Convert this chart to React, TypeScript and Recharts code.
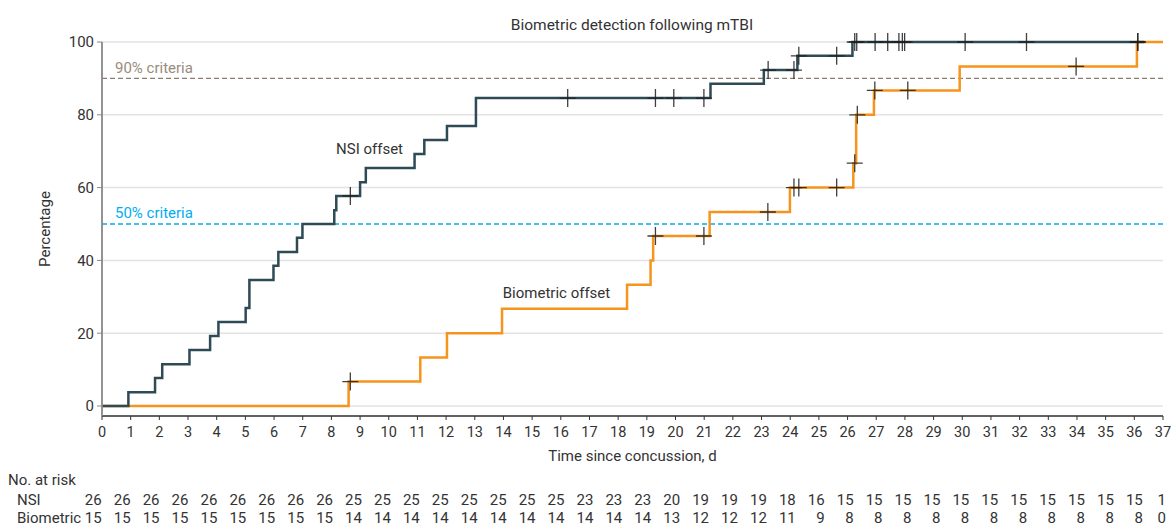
import {
  ComposedChart,
  Line,
  Scatter,
  XAxis,
  YAxis,
  CartesianGrid,
  ReferenceLine,
  ReferenceDot,
  Label,
} from 'recharts';

const FONT = 'Roboto, sans-serif';
const TEXT = '#333';
const NSI_COLOR = '#2d4a55';
const BIO_COLOR = '#f7941d';

const dayTicks = [
  0, 1, 2, 3, 4, 5, 6, 7, 8, 9, 10, 11, 12, 13, 14, 15, 16, 17, 18, 19, 20, 21, 22, 23, 24, 25, 26, 27, 28,
  29, 30, 31, 32, 33, 34, 35, 36, 37,
];
const pctTicks = [0, 20, 40, 60, 80, 100];

// NSI offset curve (day of step, cumulative % after step)
const nsiStepDays = [
  0, 0.92, 1.85, 2.1, 3.05, 3.77, 4.06, 5.01, 5.14, 5.98, 6.15, 6.8, 6.99, 8.1, 8.17, 9.0, 9.2, 10.9, 11.24,
  12.03, 13.04, 21.22, 23.08, 24.25, 26.17, 36.35,
];
const nsiStepPct = [
  0, 3.8, 7.7, 11.5, 15.4, 19.2, 23.1, 26.9, 34.6, 38.5, 42.3, 46.2, 50, 53.8, 57.7, 61.5, 65.4, 69.2, 73.1,
  76.9, 84.6, 88.5, 92.3, 96.2, 100, 100,
];
const nsiCensorDays = [
  8.66, 16.24, 19.3, 19.94, 20.99, 23.23, 24.13, 24.3, 25.62, 26.25, 26.32, 26.96, 27.4, 27.79, 27.91, 27.99,
  30.1, 32.24, 36.12,
];
const nsiCensorPct = [
  57.7, 84.6, 84.6, 84.6, 84.6, 92.3, 92.3, 96.2, 96.2, 100, 100, 100, 100, 100, 100, 100, 100, 100, 100,
];

// Biometric offset curve
const bioStepDays = [0, 8.6, 11.1, 12.03, 13.95, 18.31, 19.13, 19.22, 21.19, 23.99, 26.2, 26.3, 26.92, 29.91, 36.09, 37];
const bioStepPct = [0, 6.7, 13.3, 20, 26.7, 33.3, 40, 46.7, 53.3, 60, 66.7, 80, 86.7, 93.3, 100, 100];
const bioCensorDays = [8.66, 19.3, 20.99, 23.22, 24.13, 24.3, 25.62, 26.25, 26.34, 26.95, 28.1, 33.97, 36.12];
const bioCensorPct = [6.7, 46.7, 46.7, 53.3, 60, 60, 60, 66.7, 80, 86.7, 86.7, 93.3, 100];

// number at risk, one per day tick
const atRiskNsi = [
  26, 26, 26, 26, 26, 26, 26, 26, 26, 25, 25, 25, 25, 25, 25, 25, 25, 23, 23, 23, 20, 19, 19, 19, 18, 16, 15,
  15, 15, 15, 15, 15, 15, 15, 15, 15, 15, 1,
];
const atRiskBio = [
  15, 15, 15, 15, 15, 15, 15, 15, 15, 14, 14, 14, 14, 14, 14, 14, 14, 14, 14, 14, 13, 12, 12, 12, 11, 9, 8, 8,
  8, 8, 8, 8, 8, 8, 8, 8, 8, 0,
];

const zip = (xs: number[], ys: number[]) => xs.map((x, i) => ({ x, y: ys[i] }));

const nsiData = zip(nsiStepDays, nsiStepPct);
const bioData = zip(bioStepDays, bioStepPct);
const nsiCensor = zip(nsiCensorDays, nsiCensorPct);
const bioCensor = zip(bioCensorDays, bioCensorPct);

function Censor(props: any) {
  const { cx, cy } = props;
  if (cx == null || cy == null) return null;
  return (
    <path
      d={`M${cx - 8},${cy}H${cx + 8}M${cx},${cy - 9}V${cy + 9}`}
      stroke="#1e1e1e"
      strokeOpacity={0.85}
      strokeWidth={1.3}
      fill="none"
    />
  );
}

function CriteriaLabel(props: any) {
  const { viewBox, text, color } = props;
  if (!viewBox) return null;
  return (
    <text x={viewBox.x + 13} y={viewBox.y - 5.5} fill={color} fontSize={15} fontFamily={FONT}>
      {text}
    </text>
  );
}

function AtRiskTable() {
  const colX = (i: number) => Math.min(101.7 + 28.92 * i, 1166);
  return (
    <svg
      width={1172}
      height={527}
      style={{ position: 'absolute', left: 0, top: 0, pointerEvents: 'none' }}
      fontFamily={FONT}
      fill={TEXT}
    >
      <text x={632} y={30} textAnchor="middle" fontSize={15.5}>
        Biometric detection following mTBI
      </text>
      <text x={8} y={485} fontSize={15}>
        No. at risk
      </text>
      <text x={17} y={505} fontSize={15}>
        NSI
      </text>
      <text x={17} y={523} fontSize={15}>
        Biometric
      </text>
      {atRiskNsi.map((v, i) => (
        <text key={'n' + i} x={colX(i)} y={505} textAnchor="end" fontSize={15}>
          {v}
        </text>
      ))}
      {atRiskBio.map((v, i) => (
        <text key={'b' + i} x={colX(i)} y={523} textAnchor="end" fontSize={15}>
          {v}
        </text>
      ))}
    </svg>
  );
}

export default function App() {
  return (
    <div style={{ position: 'absolute', left: 0, top: 0, width: 1172, height: 527, background: '#fff' }}>
      <ComposedChart width={1172} height={527} margin={{ top: 42, right: 9, bottom: 63, left: 0 }}>
        <CartesianGrid vertical={false} stroke="#e3e3e3" strokeWidth={1.5} />
        <XAxis
          dataKey="x"
          type="number"
          domain={[0, 37]}
          ticks={dayTicks}
          interval={0}
          height={48}
          tickSize={4}
          tickMargin={7}
          axisLine={{ stroke: '#333', strokeWidth: 1.3 }}
          tickLine={{ stroke: '#333' }}
          tick={{ fill: TEXT, fontSize: 14.5, fontFamily: FONT }}
        >
          <Label
            value="Time since concussion, d"
            position="insideBottom"
            offset={3}
            style={{ fill: TEXT, fontSize: 15, fontFamily: FONT }}
          />
        </XAxis>
        <YAxis
          dataKey="y"
          type="number"
          domain={[-2.75, 100]}
          ticks={pctTicks}
          width={102}
          tickSize={5}
          tickMargin={3}
          axisLine={{ stroke: '#888', strokeWidth: 1.8 }}
          tickLine={{ stroke: '#888' }}
          tick={{ fill: TEXT, fontSize: 15, fontFamily: FONT }}
        >
          <Label
            value="Percentage"
            angle={-90}
            position="insideLeft"
            offset={45}
            style={{ fill: TEXT, fontSize: 15, fontFamily: FONT, textAnchor: 'middle' }}
          />
        </YAxis>
        <ReferenceLine
          y={90}
          stroke="#8c7d70"
          strokeDasharray="5 3"
          strokeWidth={1.3}
          label={<CriteriaLabel text="90% criteria" color="#9a8b7d" />}
        />
        <ReferenceLine
          y={50}
          stroke="#00aeef"
          strokeDasharray="5 3"
          strokeWidth={1.3}
          label={<CriteriaLabel text="50% criteria" color="#00aeef" />}
        />
        <Line
          data={bioData}
          dataKey="y"
          type="stepAfter"
          stroke={BIO_COLOR}
          strokeWidth={2.5}
          dot={false}
          activeDot={false}
          isAnimationActive={false}
        />
        <Line
          data={nsiData}
          dataKey="y"
          type="stepAfter"
          stroke={NSI_COLOR}
          strokeWidth={2.5}
          dot={false}
          activeDot={false}
          isAnimationActive={false}
        />
        <Scatter data={bioCensor} dataKey="y" shape={<Censor />} isAnimationActive={false} />
        <Scatter data={nsiCensor} dataKey="y" shape={<Censor />} isAnimationActive={false} />
        <ReferenceDot
          x={9.33}
          y={70.6}
          r={0}
          fill="none"
          stroke="none"
          label={{ value: 'NSI offset', position: 'center', fill: TEXT, fontSize: 15, fontFamily: FONT }}
        />
        <ReferenceDot
          x={15.85}
          y={31.1}
          r={0}
          fill="none"
          stroke="none"
          label={{ value: 'Biometric offset', position: 'center', fill: TEXT, fontSize: 15, fontFamily: FONT }}
        />
      </ComposedChart>
      <AtRiskTable />
    </div>
  );
}
